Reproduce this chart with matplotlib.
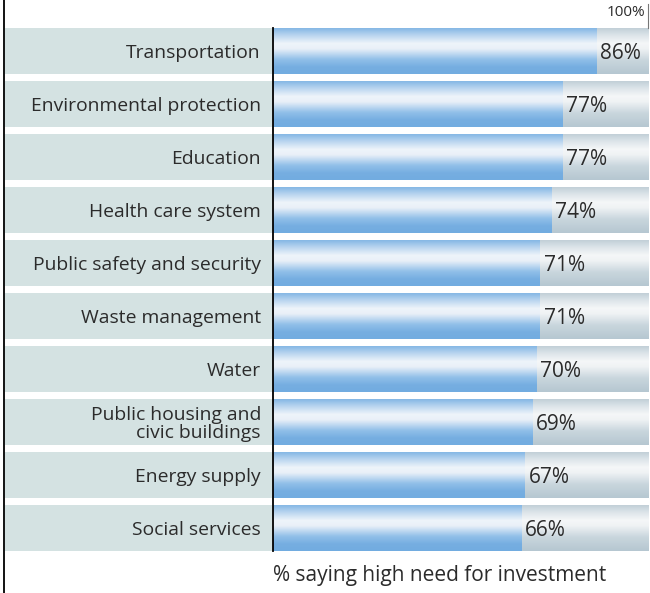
import numpy as np
import matplotlib.pyplot as plt
from matplotlib.colors import LinearSegmentedColormap

categories = ["Transportation", "Environmental protection", "Education",
              "Health care system", "Public safety and security",
              "Waste management", "Water", "Public housing and\ncivic buildings",
              "Energy supply", "Social services"]
values = [86, 77, 77, 74, 71, 71, 70, 69, 67, 66]
value_labels = ["86%", "77%", "77%", "74%", "71%", "71%", "70%", "69%", "67%", "66%"]
xlabel = "% saying high need for investment"
top_label = "100%"

plt.rcParams['font.family'] = ['Open Sans', 'DejaVu Sans']
txt = '#2b2b2b'

fig = plt.figure(figsize=(6.5, 5.93), dpi=100)
W, H = 650, 593
# axes spans from label panel left edge to 100% edge, rows from y=28 to y=551 px
left_px, right_px = 5, 649
zero_px = 273
ppu = (right_px - zero_px) / 100.0
xmin = -(zero_px - left_px) / ppu
ax = fig.add_axes([left_px / W, 1 - 551 / H, (right_px - left_px) / W, 523 / H])
h = 46 / 53
n = len(categories)
ax.set_xlim(xmin, 100)
ax.set_ylim(n - 1 + h / 2, -h / 2)
ax.axis('off')

blue = LinearSegmentedColormap.from_list('b', [
    (0.0, '#86b8e5'), (0.15, '#b8d4ef'), (0.33, '#eef4fa'), (0.45, '#e9f0f8'),
    (0.68, '#92c0e9'), (0.85, '#76aee1'), (1.0, '#72ace0')])
gray = LinearSegmentedColormap.from_list('g', [
    (0.0, '#c2d0d8'), (0.15, '#dce4e9'), (0.33, '#f5f7f8'), (0.45, '#eff2f4'),
    (0.7, '#c9d6dd'), (1.0, '#b6c7d1')])
grad = np.linspace(0, 1, 100).reshape(-1, 1)

y = np.arange(n)
# label panels
ax.barh(y, -xmin - 0.3, left=xmin, height=h, color='#d4e2e2', edgecolor='none')
# background (100%) and value bars
bg = ax.barh(y, [100] * n, height=h, color='none', edgecolor='none')
bars = ax.barh(y, values, height=h, color='none', edgecolor='none')
for rect in bg.patches:
    im = ax.imshow(grad, cmap=gray, aspect='auto', interpolation='bilinear',
                   extent=(0, 100, rect.get_y() + rect.get_height(), rect.get_y()), zorder=1)
    im.set_clip_path(rect)
for rect in bars.patches:
    im = ax.imshow(grad, cmap=blue, aspect='auto', interpolation='bilinear',
                   extent=(0, 100, rect.get_y() + rect.get_height(), rect.get_y()), zorder=2)
    im.set_clip_path(rect)
ax.set_xlim(xmin, 100)
ax.set_ylim(n - 1 + h / 2, -h / 2)

for i in range(n):
    ax.text(-3.2, y[i] + 0.04, categories[i], ha='right', va='center', fontsize=13.9,
            color=txt, linespacing=1.05, zorder=5)
    ax.text(values[i] + 1.0, y[i] + 0.05, value_labels[i], ha='left', va='center',
            fontsize=15, color=txt, zorder=5)

# axis line at zero
ax.plot([0, 0], [-h / 2, n - 1 + h / 2], color='black', lw=1.3, zorder=6, clip_on=False)

# 100% marker above the chart
fig.text(645 / W, 1 - 12 / H, top_label, ha='right', va='center', fontsize=11, color=txt)
fig.add_artist(plt.Line2D([648 / W, 648 / W], [1 - 4 / H, 1 - 28 / H], color='#777777', lw=0.8))

# x label
fig.text(zero_px / W, 1 - 576 / H, xlabel, ha='left', va='center', fontsize=15, color=txt)

# left border line
fig.add_artist(plt.Line2D([3.5 / W, 3.5 / W], [0, 1], color='black', lw=1.3))

plt.savefig('out.png', dpi=100)
